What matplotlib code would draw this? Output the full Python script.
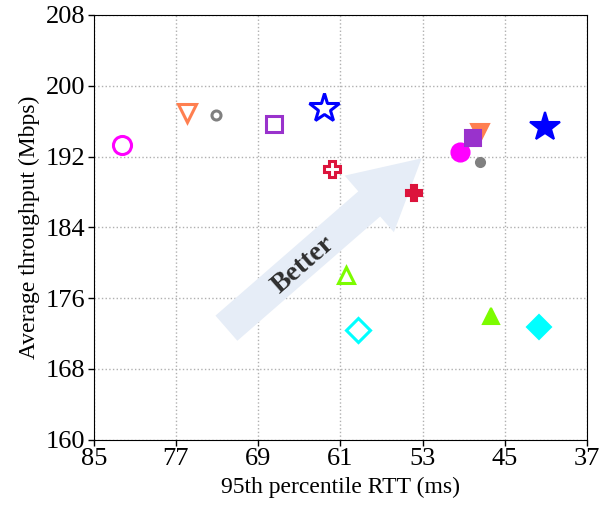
import matplotlib.pyplot as plt

plt.rcParams['font.family'] = ['Liberation Serif', 'DejaVu Serif']

# (x = 95th percentile RTT, y = throughput) hollow / filled pairs
colors = ['#ff00ff', '#ff7f50', 'gray', '#9932cc', 'blue', 'crimson', 'lawngreen', 'cyan']
markers = ['o', 'v', 'o', 's', '*', 'P', '^', 'D']
sizes = [13, 13, 6.5, 12, 22, 12, 12, 12.5]

hollow_rtt = [82.3, 75.9, 73.1, 67.5, 62.6, 61.8, 60.5, 59.3]
hollow_tput = [193.3, 196.9, 196.7, 195.7, 197.5, 190.6, 178.6, 172.4]

filled_rtt = [49.4, 47.4, 47.4, 48.1, 41.1, 53.8, 46.4, 41.7]
filled_tput = [192.5, 194.7, 191.4, 194.1, 195.3, 187.9, 174.0, 172.7]

x_ticks = [85, 77, 69, 61, 53, 45, 37]
y_ticks = [160, 168, 176, 184, 192, 200, 208]

fig = plt.figure(figsize=(6.01, 5.12), dpi=100)
ax = fig.add_axes([0.156, 0.141, 0.821, 0.83])

ax.annotate('', xy=(52.9, 192.0), xytext=(72.3, 172.4),
            arrowprops=dict(arrowstyle='simple,head_length=50,head_width=54,tail_width=24',
                            mutation_scale=1, color='#e6edf7', lw=0),
            zorder=1)
ax.text(64.6, 179.8, 'Better', rotation=41, ha='center', va='center',
        fontsize=20, fontweight='bold', color='#2e2e2e', zorder=2)

for i in range(len(colors)):
    face = 'white' if markers[i] == 'P' else 'none'
    ax.plot(hollow_rtt[i], hollow_tput[i], marker=markers[i], ms=sizes[i], mfc=face,
            mec=colors[i], mew=2.2, ls='none', zorder=3)
for i in range(len(colors)):
    ax.plot(filled_rtt[i], filled_tput[i], marker=markers[i], ms=sizes[i], color=colors[i],
            mec=colors[i], mew=1.5, ls='none', zorder=3)

ax.set_xlim(85, 37)
ax.set_ylim(160, 208)
ax.set_xticks(x_ticks)
ax.set_yticks(y_ticks)
ax.tick_params(labelsize=19, length=4, width=1, pad=2)
ax.grid(True, ls=':', color='#b0b0b0', lw=1)
ax.set_axisbelow(True)
ax.set_xlabel('95th percentile RTT (ms)', fontsize=17, labelpad=5)
ax.set_ylabel('Average throughput (Mbps)', fontsize=17, labelpad=4)

fig.savefig('out.png', dpi=100)
